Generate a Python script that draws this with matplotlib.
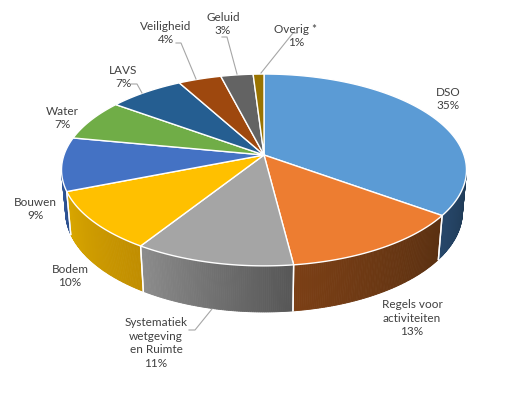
import numpy as np
import matplotlib
matplotlib.use("Agg")
import matplotlib.pyplot as plt
from matplotlib.colors import to_rgb

# data
labels = ["DSO", "Regels voor\nactiviteiten", "Systematiek\nwetgeving\nen Ruimte", "Bodem",
          "Bouwen", "Water", "LAVS", "Veiligheid", "Geluid", "Overig *"]
values = [35, 13, 11, 10, 9, 7, 7, 4, 3, 1]
colors = ["#5B9BD5", "#ED7D31", "#A5A5A5", "#FFC000", "#4472C4",
          "#70AD47", "#255E91", "#9E480E", "#636363", "#997300"]
# side wall shading (left, right)
side_cols = [("#27476A", "#1F3A55"), ("#7B3F15", "#5A3011"), ("#8C8C8C", "#565656"),
             ("#D9A700", "#C08D00"), ("#2F5597", "#2A4C88"), ("#4E7A31", "#44692A"),
             ("#1B4468", "#173A59"), ("#6E320A", "#5F2B08"), ("#454545", "#3C3C3C"),
             ("#6B5000", "#5C4500")]

# label placement (pixel centres) and leader lines
lab_pos = [(448, 99), (412, 318), (156, 343), (70, 276), (35, 209),
           (62, 118), (123, 77), (166, 33), (223, 24), (296, 36)]
leaders = {6: [(131, 84), (137, 84), (142, 93)],
           7: [(176, 43), (181, 43), (196, 79)],
           8: [(222, 37), (227, 37), (237, 74)],
           9: [(297, 33), (293, 33), (261, 73)],
           2: [(189, 330), (195, 330), (212, 309)]}

# projection of a tilted disc with perspective
cx, cy = 264, 155
elev = np.radians(27.9)
D, f, h = 5.67, 1134.0, 0.2376
se, ce = np.sin(elev), np.cos(elev)


def proj(a_deg, z, r=1.0):
    th = np.radians(90 - np.asarray(a_deg, dtype=float))
    x, y = r * np.cos(th), r * np.sin(th)
    v = y * se + z * ce
    dep = D + y * ce - z * se
    return cx + f * x / dep, cy - f * v / dep


fig = plt.figure(figsize=(5.14, 3.99), dpi=100)
ax = fig.add_axes([0, 0, 1, 1])
ax.set_xlim(0, 514)
ax.set_ylim(399, 0)
ax.axis("off")

total = sum(values)
bounds = np.concatenate([[0], np.cumsum(values) / total * 360])

# visible range of the side wall
lim = np.degrees(np.arcsin(1 / (D * ce)))
vis_lo, vis_hi = 90 + lim, 270 - lim

# side walls
for i in range(len(values)):
    a0, a1 = max(bounds[i], vis_lo), min(bounds[i + 1], vis_hi)
    if a1 <= a0:
        continue
    n = max(int((a1 - a0) * 2), 2)
    aa = np.linspace(a0, a1, n + 1)
    cl, cr = np.array(to_rgb(side_cols[i][0])), np.array(to_rgb(side_cols[i][1]))
    for k in range(n):
        t = (aa[k] + aa[k + 1]) / 2
        w = (t - a0) / (a1 - a0)
        c = cr * (1 - w) + cl * w
        xt, yt = proj([aa[k], aa[k + 1]], 0)
        xb, yb = proj([aa[k + 1], aa[k]], -h)
        ax.fill(np.r_[xt, xb], np.r_[yt, yb], color=c, lw=0.6, ec=c, zorder=1)
    for b in (bounds[i], bounds[i + 1]):
        if vis_lo < b < vis_hi:
            xt, yt = proj(b, 0)
            xb, yb = proj(b, -h)
            ax.plot([xt, xb], [yt, yb], color="white", lw=1, zorder=2)

# top faces
for i in range(len(values)):
    aa = np.linspace(bounds[i], bounds[i + 1], max(int(values[i] * 4), 4))
    xs, ys = proj(aa, 0)
    ax.fill(np.r_[cx, xs], np.r_[cy, ys], color=colors[i], ec="white", lw=1, zorder=3)

# labels
for i, lab in enumerate(labels):
    x, y = lab_pos[i]
    ax.text(x, y, f"{lab}\n{values[i]}%", ha="center", va="center", fontsize=8.5,
            color="#404040", family="Lato", linespacing=1.3, zorder=5)
for i, pts in leaders.items():
    px, py = zip(*pts)
    ax.plot(px, py, color="#A6A6A6", lw=0.8, zorder=4)

fig.savefig("out.png", dpi=100, facecolor="white")
